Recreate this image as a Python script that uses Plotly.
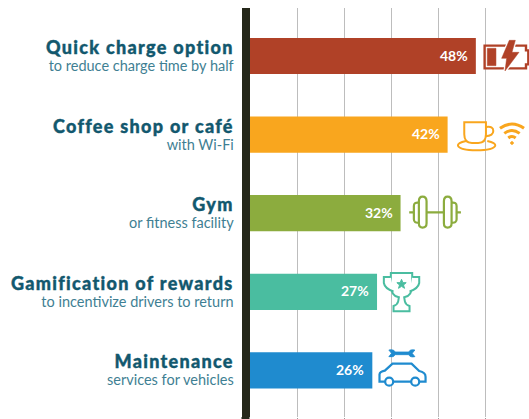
import re
import plotly.graph_objects as go

categories = ["Quick charge option", "Coffee shop or café", "Gym", "Gamification of rewards", "Maintenance"]
subtitles = ["to reduce charge time by half", "with Wi-Fi", "or fitness facility", "to incentivize drivers to return", "services for vehicles"]
values = [48, 42, 32, 27, 26]
bar_colors = ["#B04127", "#F9A61E", "#8CAC3E", "#4ABDA0", "#1F8BCF"]
grid_ticks = [10, 20, 30, 40, 50]

W, H = 529, 419
L, T, B = 250.3, 8, 417
PW, PH = W - L, B - T
TITLE_C, SUB_C = "#12586E", "#3F7F93"


def px(x, y):
    return (x - L) / PW, 1 - (y - T) / PH


def path(d, ox, oy):
    """Icon outline given in 3x crop coordinates around (ox, oy), returned in paper fractions."""
    def rep(m):
        a, b = px(ox + float(m[1]) / 3, oy + float(m[2]) / 3)
        return f"{a:.5f},{b:.5f}"
    return re.sub(r"(-?[\d.]+),(-?[\d.]+)", rep, d)


shapes = []


def icon(d, ox, oy, color, width=2.0, fill="rgba(0,0,0,0)"):
    shapes.append(dict(type="path", xref="paper", yref="paper", path=path(d, ox, oy),
                       line=dict(color=color, width=width), fillcolor=fill, layer="above"))


def disc(cx, cy, r, ox, oy, color, width=2.0, fill="#ffffff"):
    x0, y0 = px(ox + (cx - r) / 3, oy + (cy - r) / 3)
    x1, y1 = px(ox + (cx + r) / 3, oy + (cy + r) / 3)
    shapes.append(dict(type="circle", xref="paper", yref="paper", x0=x0, x1=x1, y0=y0, y1=y1,
                       line=dict(color=color, width=width), fillcolor=fill, layer="above"))


# Axis stub below the plot area
x0, y0 = px(241.8, B)
x1, y1 = px(249.8, H)
shapes.append(dict(type="rect", xref="paper", yref="paper", x0=x0, x1=x1, y0=y0, y1=y1,
                   line_width=0, fillcolor="#25271A", layer="above"))

# Battery
c = bar_colors[0]
icon("M26,32 L150,32 L150,46 L157,46 L157,88 L150,88 L150,100 L26,100 Z", 476, 35, c, 2.4, "#ffffff")
icon("M34,40 L60,40 L60,92 L34,92 Z", 476, 35, c, 0.5, c)
bolt = "M100,16 L77,70 L92,70 L87,108 L129,52 L108,52 L118,16 Z"
icon(bolt, 476, 35, "#ffffff", 3, "#ffffff")
icon(bolt, 476, 35, c, 0.5, c)

# Cup and Wi-Fi
c = bar_colors[1]
icon("M43,22 L108,22 L108,58 Q108,84 85,84 L66,84 Q43,84 43,58 Z", 450, 115, c, 2)
icon("M108,36 Q130,32 130,48 Q130,62 106,64", 450, 115, c, 2)
icon("M48,78 Q22,84 24,92 Q30,106 80,106 Q130,106 136,92 Q138,84 112,78", 450, 115, c, 2)
icon("M150,40 Q186,14 222,40", 450, 115, c, 3)
icon("M163,55 Q186,38 209,55", 450, 115, c, 3)
icon("M175,69 Q186,60 197,69", 450, 115, c, 3)
disc(186, 84, 4, 450, 115, c, 1, c)

# Dumbbell
c = bar_colors[2]
icon("M28,67 L42,67 M80,67 L132,67 M168,67 L183,67", 400, 190, c, 2.2)
icon("M57,34 Q57,20 68,20 Q80,20 80,34 L80,100 Q80,113 68,113 Q57,113 57,100 Z", 400, 190, c, 2.2)
icon("M57,38 Q42,36 42,48 L42,88 Q42,100 57,98", 400, 190, c, 2.2)
icon("M132,34 Q132,20 143,20 Q155,20 155,34 L155,100 Q155,113 143,113 Q132,113 132,100 Z", 400, 190, c, 2.2)
icon("M155,38 Q170,36 170,48 L170,88 Q170,100 155,98", 400, 190, c, 2.2)

# Trophy
c = bar_colors[3]
icon("M48,15 L112,15 L112,50 Q112,84 88,88 L90,100 Q92,110 104,114 L104,130 L56,130 L56,114 Q68,110 70,100 L72,88 Q48,84 48,50 Z",
     375, 268, c, 2, "#ffffff")
icon("M48,27 L27,27 L27,45 Q30,62 56,70", 375, 268, c, 2, "#ffffff")
icon("M112,27 L133,27 L133,45 Q130,62 104,70", 375, 268, c, 2, "#ffffff")
icon("M80,34 L84,44 L94,44 L86,51 L89,61 L80,55 L71,61 L74,51 L66,44 L76,44 Z", 375, 268, c, 1, c)

# Wrench and car
c = bar_colors[4]
icon("M57,15 Q72,12 76,21 L117,21 Q120,12 135,15 L127,25 L135,35 Q120,38 117,29 L76,29 Q72,38 57,35 L65,25 Z", 370, 345, c, 0.8, c)
icon("M29,110 L29,88 Q30,80 45,77 L68,56 L125,56 L148,78 Q167,82 167,95 L167,110 Z", 370, 345, c, 2.2, "#ffffff")
disc(58, 110, 12, 370, 345, c, 2.2)
disc(136, 110, 12, 370, 345, c, 2.2)

fig = go.Figure(go.Bar(x=values, y=categories, orientation="h", marker=dict(color=bar_colors, line_width=0),
                       hoverinfo="skip"))

annotations = []
for cat, sub, val in zip(categories, subtitles, values):
    annotations.append(dict(
        x=-(L - 236) / PW, xref="paper", y=cat, yref="y", xanchor="right", yanchor="middle",
        yshift=1, showarrow=False, align="right",
        text=(f'<span style="font-size:18px;font-weight:900;letter-spacing:1.3px;fill:{TITLE_C};'
              f'stroke:{TITLE_C};stroke-width:0.4px">{cat}</span>'
              f'<br><span style="font-size:14.5px">{sub}</span>'),
        font=dict(family="Lato", size=13, color=SUB_C)))
    annotations.append(dict(x=val, xref="x", y=cat, yref="y", xanchor="right", yanchor="middle",
                            xshift=-6, yshift=1, showarrow=False, text=f"<b>{val}%</b>",
                            font=dict(family="Lato", size=14, color="#ffffff")))

fig.update_layout(
    width=W, height=H, margin=dict(l=L, r=0, t=T, b=H - B, pad=0),
    paper_bgcolor="#ffffff", plot_bgcolor="#ffffff", showlegend=False, bargap=0.54,
    shapes=shapes, annotations=annotations,
    xaxis=dict(range=[0, PW / 4.7], tickvals=grid_ticks, showticklabels=False, showgrid=True, gridcolor="#BDBDBD",
               gridwidth=1.4, zeroline=False, ticks="outside", ticklen=3, tickcolor="#999999", tickwidth=1.4,
               showline=False),
    yaxis=dict(type="category", categoryorder="array", categoryarray=categories,
               range=[(B - 56) / 78.6, -(56 - T) / 78.6], showticklabels=False, showgrid=False, zeroline=False,
               ticks="", showline=True, linewidth=8, linecolor="#25271A"),
)

fig.write_html("out.html", config=dict(displayModeBar=False), post_script="document.body.style.margin='0';")
